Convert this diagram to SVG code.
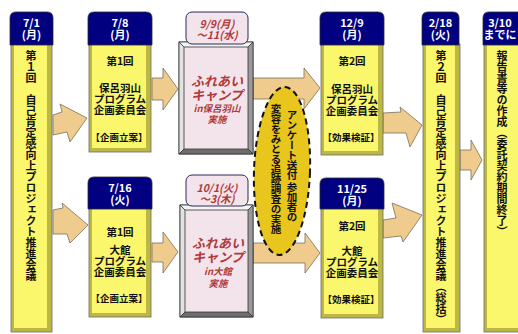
<svg xmlns="http://www.w3.org/2000/svg" width="518" height="334" viewBox="0 0 518 334">
<style>
.hd{fill:#000080;stroke:#2a2a2a;stroke-width:0.8}
.bo{fill:#BDB845;stroke:#6b6b6b;stroke-width:0.8}
.bi{fill:#FAF76C}
.ht{font-family:"Noto Sans CJK JP","Noto Sans",sans-serif;font-weight:bold;font-size:11px;fill:#ffffff;text-anchor:middle}
.bt{font-family:"Noto Sans CJK JP","Noto Sans",sans-serif;font-weight:bold;font-size:10.5px;fill:#111111;text-anchor:middle}
.sm{font-size:9.5px}
.vt{font-family:"Noto Sans CJK JP","Noto Sans",sans-serif;font-weight:bold;font-size:11px;fill:#111111;writing-mode:vertical-rl;dominant-baseline:central}
.ar{fill:#EFCB8E;stroke:#7a6e5e;stroke-width:0.8;stroke-linejoin:round}
.ch{fill:#F3E4EB;stroke:#2a2a5a;stroke-width:1}
.cf{stroke:#333333;stroke-width:0.8}
.ci{fill:#F3E4EB;stroke:#333333;stroke-width:0.8}
.ct{font-family:"Noto Sans CJK JP","Noto Sans",sans-serif;font-weight:bold;font-style:italic;fill:#B03A3A;text-anchor:middle}
.el{fill:#E8C61E;stroke:#111111;stroke-width:2;stroke-dasharray:6 4}
.et{font-family:"Noto Sans CJK JP","Noto Sans",sans-serif;font-weight:bold;font-size:10.5px;fill:#111111;writing-mode:vertical-rl;dominant-baseline:central;letter-spacing:-0.5px}
</style>

<g id="connectors">
  <polygon class="ar" points="53,115 62,112 60,104 87,118 70,142 67,132 53,135"/>
  <polygon class="ar" points="152,78 163,78 163,68 178,89 163,110 163,100 152,100"/>
  <polygon class="ar" points="253,78 304,78 304,68 320,88 304,109 304,99 253,99"/>
  <polygon class="ar" points="383,113 401,112 400,107 422,125 410,147 406,133 383,133"/>
  <polygon class="ar" points="460,150 471,150 471,140 482,160 471,180 471,170 460,170"/>
  <polygon class="ar" points="53,210 63,208 62,203 88,225 70,243 67,234 53,234"/>
  <polygon class="ar" points="152,243 163,243 163,232 178,252 163,273 163,262 152,262"/>
  <polygon class="ar" points="253,243 305,243 305,233 320,253 305,273 305,263 253,263"/>
  <polygon class="ar" points="383,220 396,218 392,203 422,215 403,242 401,236 383,238"/>
</g>

<g id="n-0701">
  <rect class="bo" x="11" y="44" width="41" height="288"/>
  <rect class="bi" x="14" y="44" width="33" height="284"/>
  <path class="hd" d="M10,45 V18 Q10,12 16,12 H47 Q53,12 53,18 V45 Z"/>
  <text class="ht" x="31.5" y="27">7/1</text>
  <text class="ht" x="31.5" y="38.5">(月)</text>
  <text class="vt" x="31" y="50">第１回　自己肯定感向上プロジェクト推進会議</text>
</g>

<g id="n-0708">
  <rect class="bo" x="89" y="44" width="62" height="108"/>
  <rect class="bi" x="92" y="44" width="54" height="104"/>
  <path class="hd" d="M88,45 V18 Q88,12 94,12 H146 Q152,12 152,18 V45 Z"/>
  <text class="ht" x="120" y="27">7/8</text>
  <text class="ht" x="120" y="38.5">(月)</text>
  <text class="bt" x="120" y="65">第1回</text>
  <text class="bt" x="120" y="91.5">保呂羽山</text>
  <text class="bt" x="120" y="102.5">プログラム</text>
  <text class="bt" x="120" y="113.5">企画委員会</text>
  <text class="bt sm" x="119" y="141">【企画立案】</text>
</g>

<g id="n-0716">
  <rect class="bo" x="89" y="208" width="62" height="109"/>
  <rect class="bi" x="92" y="208" width="54" height="105"/>
  <path class="hd" d="M88,209 V183 Q88,177 94,177 H146 Q152,177 152,183 V209 Z"/>
  <text class="ht" x="120" y="192">7/16</text>
  <text class="ht" x="120" y="203.5">(火)</text>
  <text class="bt" x="120" y="236">第1回</text>
  <text class="bt" x="120" y="254">大館</text>
  <text class="bt" x="120" y="265">プログラム</text>
  <text class="bt" x="120" y="276">企画委員会</text>
  <text class="bt sm" x="119" y="302">【企画立案】</text>
</g>

<g id="n-camp1">
  <rect class="ci" x="179" y="42" width="74" height="112"/>
  <polygon class="cf" fill="#F4F4F4" points="179,42 253,42 248,47 184,47"/>
  <polygon class="cf" fill="#E2E2E2" points="179,42 184,47 184,149 179,154"/>
  <polygon class="cf" fill="#9A9A9A" points="253,42 253,154 248,149 248,47"/>
  <polygon class="cf" fill="#6E6E6E" points="179,154 253,154 248,149 184,149"/>
  <rect class="ch" x="186" y="12" width="62" height="32" rx="6"/>
  <text class="ct" x="217" y="28" font-size="10.5">9/9(月)</text>
  <text class="ct" x="217" y="39" font-size="10.5">～11(水)</text>
  <text class="ct" x="217" y="86" font-size="13">ふれあい</text>
  <text class="ct" x="217" y="99.5" font-size="13">キャンプ</text>
  <text class="ct" x="217" y="112" font-size="9.5">in保呂羽山</text>
  <text class="ct" x="217" y="123" font-size="9.5">実施</text>
</g>

<g id="n-camp2">
  <rect class="ci" x="180" y="205" width="73" height="112"/>
  <polygon class="cf" fill="#F4F4F4" points="180,205 253,205 248,210 185,210"/>
  <polygon class="cf" fill="#E2E2E2" points="180,205 185,210 185,312 180,317"/>
  <polygon class="cf" fill="#9A9A9A" points="253,205 253,317 248,312 248,210"/>
  <polygon class="cf" fill="#6E6E6E" points="180,317 253,317 248,312 185,312"/>
  <rect class="ch" x="186" y="175" width="62" height="31" rx="6"/>
  <text class="ct" x="217" y="192" font-size="10.5">10/1(火)</text>
  <text class="ct" x="217" y="203" font-size="10.5">～3(木)</text>
  <text class="ct" x="218" y="248" font-size="13">ふれあい</text>
  <text class="ct" x="218" y="262" font-size="13">キャンプ</text>
  <text class="ct" x="218" y="275" font-size="9.5">in大館</text>
  <text class="ct" x="218" y="287" font-size="9.5">実施</text>
</g>

<g id="n-survey">
  <ellipse class="el" cx="282" cy="171" rx="28" ry="84" transform="rotate(2 282 171)"/>
  <text class="et" x="292" y="110">アンケート送付 参加者の</text>
  <text class="et" x="276" y="104">変容をみとる追跡調査の実施</text>
</g>

<g id="n-1209">
  <rect class="bo" x="321" y="44" width="62" height="111"/>
  <rect class="bi" x="324" y="44" width="54" height="107"/>
  <path class="hd" d="M320,45 V18 Q320,12 326,12 H378 Q384,12 384,18 V45 Z"/>
  <text class="ht" x="352" y="27">12/9</text>
  <text class="ht" x="352" y="38.5">(月)</text>
  <text class="bt" x="352" y="65">第2回</text>
  <text class="bt" x="352" y="93">保呂羽山</text>
  <text class="bt" x="352" y="104">プログラム</text>
  <text class="bt" x="352" y="115">企画委員会</text>
  <text class="bt sm" x="351" y="141">【効果検証】</text>
</g>

<g id="n-1125">
  <rect class="bo" x="321" y="208" width="62" height="110"/>
  <rect class="bi" x="324" y="208" width="54" height="106"/>
  <path class="hd" d="M320,209 V184 Q320,178 326,178 H378 Q384,178 384,184 V209 Z"/>
  <text class="ht" x="352" y="193">11/25</text>
  <text class="ht" x="352" y="204.5">(月)</text>
  <text class="bt" x="352" y="230">第2回</text>
  <text class="bt" x="352" y="255">大館</text>
  <text class="bt" x="352" y="266">プログラム</text>
  <text class="bt" x="352" y="277">企画委員会</text>
  <text class="bt sm" x="351" y="303">【効果検証】</text>
</g>

<g id="n-0218">
  <rect class="bo" x="423" y="44" width="37" height="288"/>
  <rect class="bi" x="426" y="44" width="29" height="284"/>
  <path class="hd" d="M422,45 V18 Q422,12 428,12 H453 Q459,12 459,18 V45 Z"/>
  <text class="ht" x="440.5" y="27">2/18</text>
  <text class="ht" x="440.5" y="38.5">(火)</text>
  <text class="vt" x="441" y="50">第２回　自己肯定感向上プロジェクト推進会議（総括）</text>
</g>

<g id="n-0310">
  <rect class="bo" x="484" y="44" width="40" height="288"/>
  <rect class="bi" x="487" y="44" width="40" height="284"/>
  <path class="hd" d="M483,45 V18 Q483,12 489,12 H522 V45 Z"/>
  <text class="ht" x="500" y="27">3/10</text>
  <text class="ht" x="500" y="38.5">までに</text>
  <text class="vt" x="502" y="50">報告書等の作成（委託契約期間終了）</text>
</g>
</svg>
